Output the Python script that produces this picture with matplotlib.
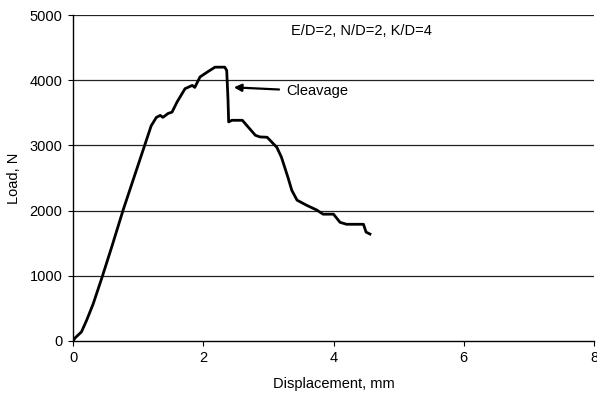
import numpy as np
import matplotlib.pyplot as plt

plt.rcParams['font.family'] = ['Liberation Sans', 'DejaVu Sans']

# load-displacement curve
disp = [0.0, 0.03, 0.13, 0.21, 0.31, 0.45, 0.6, 0.77, 0.9, 1.0, 1.1, 1.2, 1.28, 1.34, 1.38,
        1.46, 1.52, 1.6, 1.72, 1.83, 1.87, 1.95, 2.07, 2.18, 2.33, 2.36, 2.38, 2.39,
        2.44, 2.6, 2.8, 2.87, 2.98, 3.13, 3.2, 3.3, 3.36, 3.44, 3.59, 3.74, 3.84, 4.0,
        4.1, 4.2, 4.33, 4.46, 4.5, 4.56]
load = [0, 45, 140, 320, 570, 990, 1460, 2010, 2400, 2700, 3000, 3300, 3430, 3460, 3430,
        3490, 3510, 3670, 3870, 3920, 3890, 4050, 4130, 4200, 4200, 4150, 3700, 3360,
        3385, 3385, 3155, 3130, 3125, 2970, 2820, 2510, 2310, 2160, 2080, 2010, 1945, 1945,
        1820, 1790, 1790, 1790, 1670, 1640]

x_ticks = [0, 2, 4, 6, 8]
y_ticks = [0, 1000, 2000, 3000, 4000, 5000]

fig = plt.figure(figsize=(5.97, 3.99), dpi=100)
ax = fig.add_axes([0.1223, 0.1454, 0.8727, 0.817])

for y in y_ticks[1:]:
    ax.axhline(y, color='#222222', lw=0.9, zorder=1)

ax.plot(disp, load, color='black', lw=2.0, zorder=3)

ax.set_xlim(0, 8)
ax.set_ylim(0, 5000)
ax.set_xticks(x_ticks)
ax.set_yticks(y_ticks)
ax.tick_params(direction='out', length=3.5, width=0.8, labelsize=10.5, pad=4)
for s in ['top', 'right']:
    ax.spines[s].set_visible(False)
for s in ['left', 'bottom']:
    ax.spines[s].set_linewidth(1.0)

ax.set_xlabel('Displacement, mm', fontsize=10.5, labelpad=8)
ax.set_ylabel('Load, N', fontsize=10.5, labelpad=6)

ax.text(4.43, 4760, 'E/D=2, N/D=2, K/D=4', ha='center', va='center', fontsize=10.5)
ax.annotate('Cleavage', xy=(2.47, 3890), xytext=(3.27, 3830), fontsize=10.5,
            va='center', ha='left',
            arrowprops=dict(arrowstyle='-|>', color='black', lw=1.6, shrinkA=3, shrinkB=0,
                            mutation_scale=11))

fig.savefig('out.png', dpi=100)
